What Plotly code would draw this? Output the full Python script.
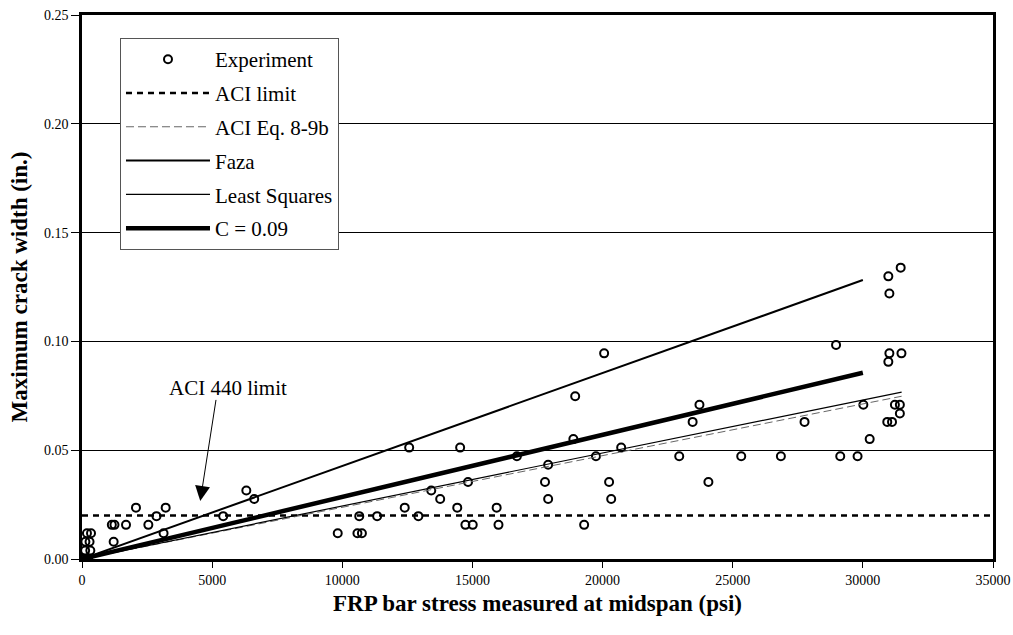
import plotly.graph_objects as go

# Experimental data: FRP bar stress (psi) vs maximum crack width (in.)
exp_x = [0, 40, 100, 170, 240, 120, 320, 130, 290, 190, 346,
         1146, 1247, 1216, 1691, 2074, 2549, 2861, 3134, 3215,
         5425, 6313, 6616, 9825, 10582, 10754, 10652, 11339,
         12399, 12570, 12923, 13418, 13761, 14417, 14528, 14730,
         14831, 15012, 15931, 16001, 16708, 17788, 17909, 17909,
         18878, 18948, 19292, 19746, 20060, 20251, 20331, 20715, 22945,
         23460, 23722, 24066, 25327, 26851, 27759, 28970, 29131,
         29797, 30019, 30262, 30938, 30979, 30979, 31019, 31019,
         31120, 31231, 31422, 31422, 31453, 31483]
exp_y = [0, 0, 0, 0, 0, 0.0039, 0.0039, 0.0079, 0.0079, 0.0118, 0.0118,
         0.0157, 0.0157, 0.0079, 0.0157, 0.0236, 0.0157, 0.0197, 0.0118, 0.0236,
         0.0197, 0.0315, 0.0276, 0.0118, 0.0118, 0.0118, 0.0197, 0.0197,
         0.0236, 0.0512, 0.0197, 0.0315, 0.0276, 0.0236, 0.0512, 0.0157,
         0.0354, 0.0157, 0.0236, 0.0157, 0.0472, 0.0354, 0.0433, 0.0276,
         0.0551, 0.0748, 0.0157, 0.0472, 0.0945, 0.0354, 0.0276, 0.0512, 0.0472,
         0.0630, 0.0709, 0.0354, 0.0472, 0.0472, 0.0630, 0.0984, 0.0472,
         0.0472, 0.0709, 0.0551, 0.0630, 0.0906, 0.1299, 0.1220, 0.0945,
         0.0630, 0.0709, 0.0709, 0.0669, 0.1339, 0.0945]

aci_limit_x = [0, 35000]
aci_limit_y = [0.02, 0.02]

aci_eq_x = [0, 31490]
aci_eq_y = [0, 0.0748]

faza_x = [0, 30000]
faza_y = [0, 0.1282]

ls_x = [0, 31490]
ls_y = [0, 0.0767]

c09_x = [0, 30000]
c09_y = [0, 0.0856]

x_ticks = [0, 5000, 10000, 15000, 20000, 25000, 30000, 35000]
y_ticks = [0.00, 0.05, 0.10, 0.15, 0.20, 0.25]

SERIF = "Liberation Serif, Times New Roman, serif"

fig = go.Figure()

fig.add_trace(go.Scatter(
    x=exp_x, y=exp_y, mode="markers", name="Experiment", legendgroup="a",
    marker=dict(symbol="circle-open", size=8, color="black", line=dict(width=2, color="black")),
))
fig.add_trace(go.Scatter(
    x=aci_limit_x, y=aci_limit_y, mode="lines", name="ACI limit", legendgroup="b",
    line=dict(color="black", width=2.5, dash="6px,5px"),
))
fig.add_trace(go.Scatter(
    x=aci_eq_x, y=aci_eq_y, mode="lines", name="ACI Eq. 8-9b", legendgroup="c",
    line=dict(color="#666666", width=1, dash="8px,4px"),
))
fig.add_trace(go.Scatter(
    x=faza_x, y=faza_y, mode="lines", name="Faza", legendgroup="d",
    line=dict(color="black", width=2),
))
fig.add_trace(go.Scatter(
    x=ls_x, y=ls_y, mode="lines", name="Least Squares", legendgroup="e",
    line=dict(color="black", width=1.2),
))
fig.add_trace(go.Scatter(
    x=c09_x, y=c09_y, mode="lines", name="C = 0.09", legendgroup="f",
    line=dict(color="black", width=4.5),
))

fig.add_annotation(
    x=5620, y=0.0786, xref="x", yref="y", text="ACI 440 limit", showarrow=False,
    font=dict(family=SERIF, size=21, color="black"),
)
fig.add_annotation(
    x=4543, y=0.0267, ax=5157, ay=0.0738, xref="x", yref="y", axref="x", ayref="y",
    text="", showarrow=True, arrowhead=2, arrowsize=3, arrowwidth=1, arrowcolor="black",
)

fig.update_layout(
    width=1013, height=635,
    margin=dict(l=82, r=20, t=15, b=76),
    paper_bgcolor="white", plot_bgcolor="white",
    font=dict(family=SERIF, color="black"),
    showlegend=True,
    legend=dict(
        x=0.0417, y=0.9577, xanchor="left", yanchor="top",
        bgcolor="white", bordercolor="#555555", borderwidth=1,
        font=dict(family=SERIF, size=21, color="black"),
        itemwidth=84, tracegroupgap=3.5, traceorder="grouped",
    ),
    xaxis=dict(
        range=[0, 35000], tickvals=x_ticks, tickformat="d",
        showgrid=False, zeroline=False, automargin=False, ticklabeloverflow="allow",
        showline=True, linecolor="black", linewidth=2.5, mirror=True,
        ticks="outside", ticklen=6, tickwidth=1, tickcolor="black",
        tickfont=dict(family=SERIF, size=14, color="black"),
        title=dict(text="<b>FRP bar stress measured at midspan (psi)</b>",
                   font=dict(family=SERIF, size=23, color="black"), standoff=9),
    ),
    yaxis=dict(
        range=[0, 0.25], tickvals=y_ticks, tickformat=".2f",
        showgrid=True, gridcolor="black", gridwidth=1, zeroline=False, automargin=False,
        ticklabeloverflow="allow",
        showline=True, linecolor="black", linewidth=2.5, mirror=True,
        ticks="outside", ticklen=8, tickwidth=1, tickcolor="black",
        tickfont=dict(family=SERIF, size=14, color="black"),
        title=dict(text="<b>Maximum crack width (in.)</b>",
                   font=dict(family=SERIF, size=23, color="black"), standoff=10),
    ),
)

# Remove the default page margin so the figure fills the window exactly.
fig.write_html(
    "out.html",
    config={"displayModeBar": False},
    post_script="document.body.style.margin='0';document.body.style.overflow='hidden';",
)
